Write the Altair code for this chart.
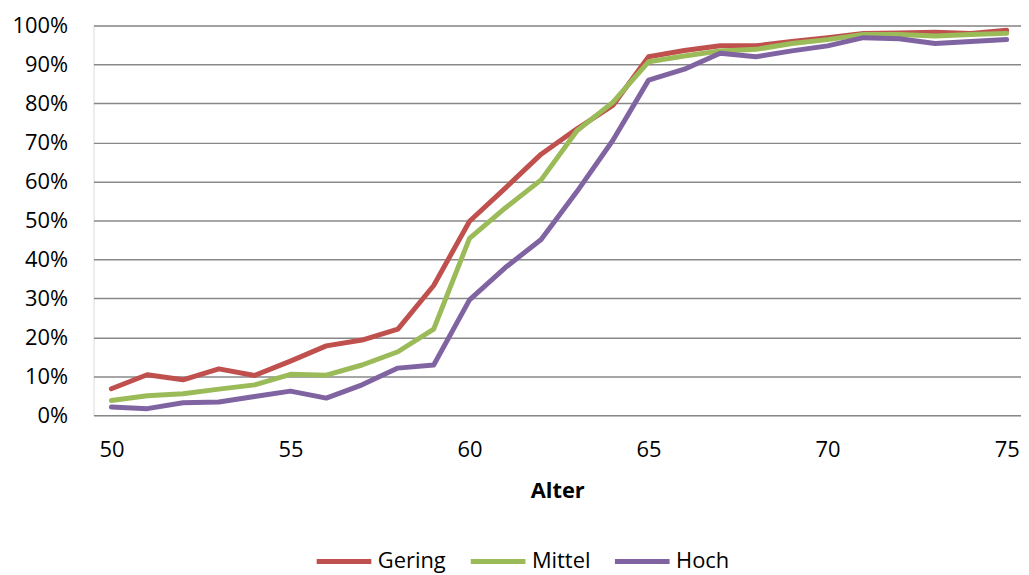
import altair as alt
import pandas as pd

ages = list(range(50, 76))
gering = [6.8, 10.4, 9.1, 11.9, 10.2, 13.9, 17.8, 19.3, 22.1, 33.3, 49.8, 58.3, 67.0, 73.5, 79.5,
          92.0, 93.6, 94.8, 94.8, 95.9, 96.9, 98.0, 98.1, 98.3, 98.0, 98.8]
mittel = [3.8, 5.0, 5.5, 6.7, 7.8, 10.5, 10.3, 12.9, 16.3, 22.1, 45.4, 53.2, 60.4, 73.0, 80.3,
          90.7, 92.2, 93.5, 93.9, 95.4, 96.4, 97.7, 97.7, 97.3, 97.7, 98.0]
hoch = [2.1, 1.7, 3.2, 3.4, 4.8, 6.2, 4.4, 7.8, 12.1, 12.9, 29.6, 37.9, 45.1, 57.4, 70.5,
        86.0, 88.8, 92.9, 92.0, 93.5, 94.8, 96.9, 96.6, 95.4, 95.9, 96.4]
series_names = ["Gering", "Mittel", "Hoch"]
series_colors = ["#C0504D", "#9BBB59", "#8064A2"]
x_ticks = [50, 55, 60, 65, 70, 75]
y_ticks = [i / 10 for i in range(11)]

rows = []
for name, vals in zip(series_names, [gering, mittel, hoch]):
    for a, v in zip(ages, vals):
        rows.append({"Alter": a, "Wert": v / 100, "Gruppe": name})
df = pd.DataFrame(rows)

FONT = "Open Sans"

color = alt.Color(
    "Gruppe:N",
    scale=alt.Scale(domain=series_names, range=series_colors),
    legend=alt.Legend(
        title=None, orient="none", direction="horizontal",
        legendX=222, legendY=509, symbolType="stroke", symbolSize=3025,
        symbolStrokeWidth=5, labelFontSize=22, labelFont=FONT, labelColor="#000000",
        labelOffset=4, columnPadding=14, padding=0, labelLimit=200,
    ),
)

x = alt.X(
    "Alter:Q",
    scale=alt.Scale(domain=[49.5, 75.4], nice=False, zero=False),
    axis=alt.Axis(
        values=x_ticks, title="Alter", grid=False, ticks=False, domain=False,
        labelFontSize=22, labelFont=FONT, labelColor="#000000", labelPadding=24,
        titleFont=FONT, titleFontSize=22, titleFontWeight="bold", titleColor="#000000",
        titlePadding=21, labelFlush=False,
    ),
)
y = alt.Y(
    "Wert:Q",
    scale=alt.Scale(domain=[0, 1], nice=False),
    axis=alt.Axis(
        values=y_ticks, format=".0%", title=None, grid=True, gridColor="#888888",
        gridWidth=1.5, ticks=False, domain=False, labelFontSize=22, labelFont=FONT,
        labelColor="#000000", labelPadding=26,
    ),
)

layers = []
for name in series_names:
    layers.append(
        alt.Chart(df)
        .transform_filter(alt.datum.Gruppe == name)
        .mark_line(strokeWidth=5, strokeCap="round", strokeJoin="round")
        .encode(x=x, y=y, color=color)
    )

chart = (
    alt.layer(*layers)
    .properties(
        width=933, height=392,
        autosize=alt.AutoSizeParams(type="none"),
        padding={"left": 86, "top": 16, "right": 0, "bottom": 159},
    )
    .configure_view(stroke=None)
    .configure(background="white")
)

chart.save("out.html", embed_options={"renderer": "svg", "actions": False})
